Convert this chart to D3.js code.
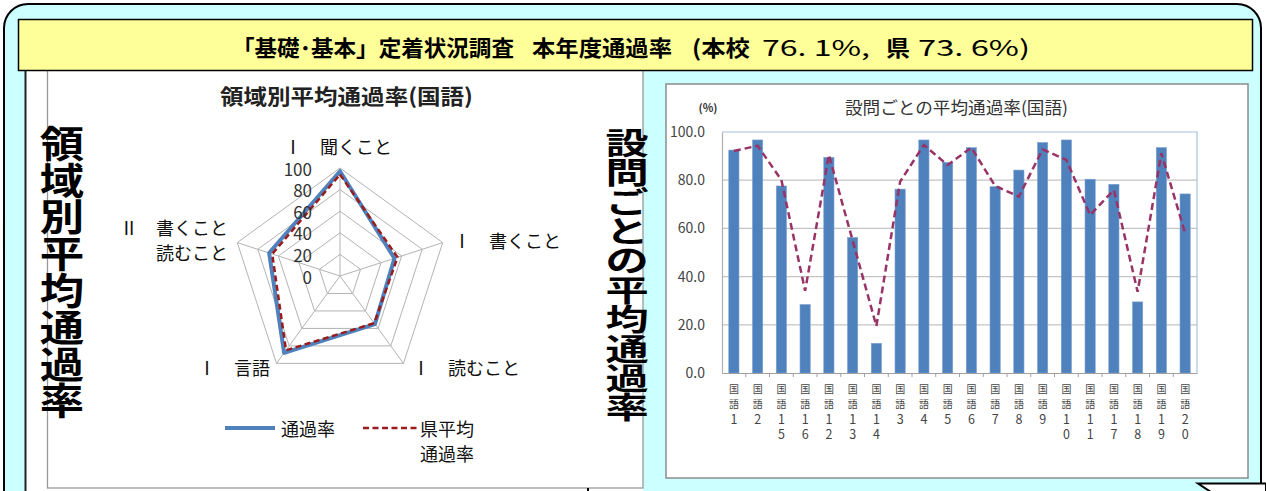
<!DOCTYPE html>
<html lang="ja">
<head>
<meta charset="UTF-8">
<title>通過率</title>
<script src="https://d3js.org/d3.v7.min.js"></script>
<style>
  body { margin: 0; background: #fff; }
  text { font-family: "Noto Sans CJK JP", "Liberation Serif", sans-serif; }
</style>
</head>
<body>
<svg></svg>
<script>
const width = 1266, height = 491;

// title pieces
const headTexts = ["「基礎･基本」定着状況調査", "本年度通過率", "(本校", "76. 1%,", "県", "73. 6%)"];

// radar data
const radarAxes = [["Ⅰ　聞くこと"], ["Ⅰ　書くこと"], ["Ⅰ　読むこと"], ["Ⅰ　言語"], ["Ⅱ　書くこと", "読むこと"]];
const radarSchool = [97, 53, 55, 88, 69];
const radarPref = [94, 56, 54, 85, 66];
const radarTicks = [0, 20, 40, 60, 80, 100];

// bar chart data
const questions = ["1","2","15","16","12","13","14","3","4","5","6","7","8","9","10","11","17","18","19","20"];
const schoolRates = [92.5, 96.7, 77.6, 28.4, 89.5, 56.2, 12.3, 76.3, 96.7, 87.4, 93.5, 77.3, 84.2, 95.6, 96.7, 80.4, 78.3, 29.5, 93.5, 74.3];
const prefRates = [92.1, 94.3, 80.1, 34.1, 90.5, 55.0, 19.5, 79.4, 94.6, 86.3, 93.5, 77.6, 73.2, 92.8, 88.4, 65.6, 75.9, 33.7, 91.2, 58.0];
const barTicks = [0, 20, 40, 60, 80, 100];

const leftLabel = "領域別平均通過率";
const rightLabel = "設問ごとの平均通過率";

const svg = d3.select("svg").attr("width", width).attr("height", height);

// background box
svg.append("rect")
  .attr("x", 4).attr("y", 4).attr("width", 1257).attr("height", 540)
  .attr("rx", 24)
  .attr("fill", "#ccffff").attr("stroke", "#000").attr("stroke-width", 2);

// left white panel
svg.append("rect").attr("x", 25).attr("y", 71).attr("width", 618).attr("height", 440).attr("fill", "#fff");
svg.append("line").attr("x1", 25.5).attr("x2", 25.5).attr("y1", 71).attr("y2", 491).attr("stroke", "#222").attr("stroke-width", 2);
svg.append("rect").attr("x", 47.5).attr("y", 68).attr("width", 595.5).attr("height", 420)
  .attr("fill", "none").attr("stroke", "#999").attr("stroke-width", 1.3);
svg.append("line").attr("x1", 588).attr("x2", 588).attr("y1", 488).attr("y2", 491).attr("stroke", "#000").attr("stroke-width", 2);

// yellow title bar
svg.append("rect").attr("x", 18.5).attr("y", 19.5).attr("width", 1234).attr("height", 51)
  .attr("fill", "#ffff99").attr("stroke", "#000").attr("stroke-width", 1.5);

const headX = [232, 532, 692, 762, 886, 918];
const headW = [282, 140, 58, 108, 24, 112];
svg.append("g").selectAll("text").data(headTexts).join("text")
  .attr("x", (d, i) => headX[i]).attr("y", 46)
  .attr("dominant-baseline", "central")
  .attr("font-size", 22).attr("fill", "#000")
  .attr("font-weight", (d, i) => (i === 3 || i === 5) ? "normal" : "bold")
  .attr("textLength", (d, i) => headW[i]).attr("lengthAdjust", "spacingAndGlyphs")
  .text(d => d);

// ---------- radar ----------
const cx = 340, cy = 276, R = 108;
const r = d3.scaleLinear().domain([0, 100]).range([0, R]);
const ang = i => i * 2 * Math.PI / radarAxes.length;
const pt = (i, v) => [cx + r(v) * Math.sin(ang(i)), cy - r(v) * Math.cos(ang(i))];

svg.append("text").attr("x", 220).attr("y", 95)
  .attr("dominant-baseline", "central")
  .attr("font-size", 21).attr("font-weight", "bold").attr("fill", "#222")
  .attr("textLength", 253).attr("lengthAdjust", "spacingAndGlyphs")
  .text("領域別平均通過率(国語)");

const radar = svg.append("g");
radar.selectAll("polygon.ring").data(radarTicks.slice(1)).join("polygon")
  .attr("class", "ring")
  .attr("points", t => radarAxes.map((a, i) => pt(i, t).join(",")).join(" "))
  .attr("fill", "none").attr("stroke", "#b3b3b3").attr("stroke-width", 1);
radar.selectAll("line.spoke").data(radarAxes).join("line")
  .attr("class", "spoke")
  .attr("x1", cx).attr("y1", cy)
  .attr("x2", (d, i) => pt(i, 100)[0]).attr("y2", (d, i) => pt(i, 100)[1])
  .attr("stroke", "#b3b3b3").attr("stroke-width", 1);

const radial = d3.line().curve(d3.curveLinearClosed);
radar.append("path").attr("d", radial(radarSchool.map((v, i) => pt(i, v))))
  .attr("fill", "none").attr("stroke", "#4f81bd").attr("stroke-width", 4).attr("stroke-linejoin", "round");
radar.append("path").attr("d", radial(radarPref.map((v, i) => pt(i, v))))
  .attr("fill", "none").attr("stroke", "#9b1c1c").attr("stroke-width", 2.5).attr("stroke-dasharray", "6,3.5");

radar.selectAll("text.tick").data(radarTicks).join("text")
  .attr("class", "tick")
  .attr("x", cx - 28).attr("y", t => cy - r(t))
  .attr("text-anchor", "end").attr("dominant-baseline", "central")
  .attr("font-family", "Liberation Serif").attr("font-size", 17).attr("fill", "#333")
  .text(t => t);

const labelPos = [
  {x: 338, y: 146, anchor: "middle"},
  {x: 453, y: 240, anchor: "start"},
  {x: 412, y: 367, anchor: "start"},
  {x: 270, y: 367, anchor: "end"},
  {x: 228, y: 227, anchor: "end"}
];
radarAxes.forEach((lines, i) => {
  const p = labelPos[i];
  svg.append("text").attr("x", p.x).attr("y", p.y)
    .attr("text-anchor", p.anchor).attr("dominant-baseline", "central")
    .attr("font-size", 18).attr("fill", "#111")
    .selectAll("tspan").data(lines).join("tspan")
    .attr("x", p.x).attr("dy", (d, j) => j ? 25 : 0)
    .text(d => d);
});

// legend
svg.append("line").attr("x1", 225).attr("x2", 275).attr("y1", 428).attr("y2", 428)
  .attr("stroke", "#4f81bd").attr("stroke-width", 4);
svg.append("text").attr("x", 281).attr("y", 428).attr("dominant-baseline", "central")
  .attr("font-size", 18).attr("fill", "#111").text("通過率");
svg.append("line").attr("x1", 363).attr("x2", 417).attr("y1", 428).attr("y2", 428)
  .attr("stroke", "#9b1c1c").attr("stroke-width", 2.5).attr("stroke-dasharray", "6,3.5");
svg.append("text").attr("x", 420).attr("y", 428).attr("dominant-baseline", "central")
  .attr("font-size", 18).attr("fill", "#111")
  .selectAll("tspan").data(["県平均", "通過率"]).join("tspan")
  .attr("x", 420).attr("dy", (d, j) => j ? 25 : 0).text(d => d);

// big vertical labels, one character per text
function vertical(str, x, y0, pitch, size, sx, sy) {
  svg.append("g").selectAll("text").data([...str]).join("text")
    .attr("transform", (d, i) => `translate(${x},${y0 + i * pitch}) scale(${sx},${sy})`)
    .attr("text-anchor", "middle").attr("dominant-baseline", "central")
    .attr("font-size", size).attr("font-weight", "bold").attr("fill", "#000")
    .text(d => d);
}

// ---------- bar chart ----------
svg.append("rect").attr("x", 666).attr("y", 84).attr("width", 582).attr("height", 394)
  .attr("fill", "#fff").attr("stroke", "#8c8c8c").attr("stroke-width", 1.5);

const x = d3.scaleBand().domain(questions).range([722, 1197]);
const y = d3.scaleLinear().domain([0, 100]).range([373, 132]);
const bw = x.bandwidth() * 0.43;

svg.append("text").attr("x", 845).attr("y", 106)
  .attr("dominant-baseline", "central")
  .attr("font-size", 17).attr("fill", "#333")
  .attr("textLength", 223).attr("lengthAdjust", "spacingAndGlyphs")
  .text("設問ごとの平均通過率(国語)");
svg.append("text").attr("x", 708).attr("y", 107)
  .attr("text-anchor", "middle").attr("dominant-baseline", "central")
  .attr("font-size", 11).attr("font-weight", "bold").attr("fill", "#333").text("(%)");

// grid
svg.append("g").selectAll("line").data(barTicks.slice(1, -1)).join("line")
  .attr("x1", 722).attr("x2", 1197).attr("y1", d => y(d)).attr("y2", d => y(d))
  .attr("stroke", "#c4c4c4").attr("stroke-width", 1.2);
svg.append("path").attr("d", `M722,${y(100)}H1197V${y(0)}`)
  .attr("fill", "none").attr("stroke", "#a7c0df").attr("stroke-width", 1.2);

svg.selectAll("rect.bar").data(schoolRates).join("rect")
  .attr("class", "bar")
  .attr("x", (d, i) => x(questions[i]) + (x.bandwidth() - bw) / 2)
  .attr("y", d => y(d)).attr("width", bw).attr("height", d => y(0) - y(d))
  .attr("fill", "#4f81bd").attr("stroke", "#7aa0d0").attr("stroke-width", 0.6);

const yAxis = svg.append("g").attr("transform", "translate(722,0)")
  .call(d3.axisLeft(y).tickValues(barTicks).tickFormat(d3.format(".1f")).tickSize(0).tickPadding(17));
yAxis.select(".domain").attr("stroke", "#b0b0b0").attr("stroke-width", 1.2);
yAxis.selectAll("text").attr("font-family", "Liberation Serif").attr("font-size", 14).attr("fill", "#444");

const xAxis = svg.append("g").attr("transform", `translate(0,${y(0)})`)
  .call(d3.axisBottom(x).tickSize(0).tickFormat(""));
xAxis.select(".domain").attr("stroke", "#a0a0a0").attr("stroke-width", 1.2);
svg.append("g").selectAll("line").data(questions.slice(1)).join("line")
  .attr("x1", d => x(d)).attr("x2", d => x(d)).attr("y1", y(0)).attr("y2", y(0) + 4)
  .attr("stroke", "#a0a0a0");

// stacked category labels
questions.forEach(q => {
  const chars = ["国", "語", ...q];
  svg.append("g").selectAll("text").data(chars).join("text")
    .attr("x", x(q) + x.bandwidth() / 2)
    .attr("y", (d, j) => 388 + j * 15)
    .attr("text-anchor", "middle").attr("dominant-baseline", "central")
    .attr("fill", "#444")
    .attr("font-family", (d, j) => j < 2 ? "Noto Sans CJK JP" : "Liberation Serif")
    .attr("font-size", (d, j) => j < 2 ? 10 : 12.5)
    .text(d => d);
});

const prefLine = d3.line().x((d, i) => x(questions[i]) + x.bandwidth() / 2).y(d => y(d));
svg.append("path").attr("d", prefLine(prefRates))
  .attr("fill", "none").attr("stroke", "#993366").attr("stroke-width", 2.5)
  .attr("stroke-dasharray", "7,4");

vertical(leftLabel, 62, 142, 36.8, 37, 1.2, 1);
vertical(rightLabel, 627, 141, 29.4, 36, 1.2, 0.83);

// callout tail bottom right
svg.append("path").attr("d", "M1266,483.5H1198L1220,498H1266Z")
  .attr("fill", "#fff").attr("stroke", "#000").attr("stroke-width", 2);
</script>
</body>
</html>
